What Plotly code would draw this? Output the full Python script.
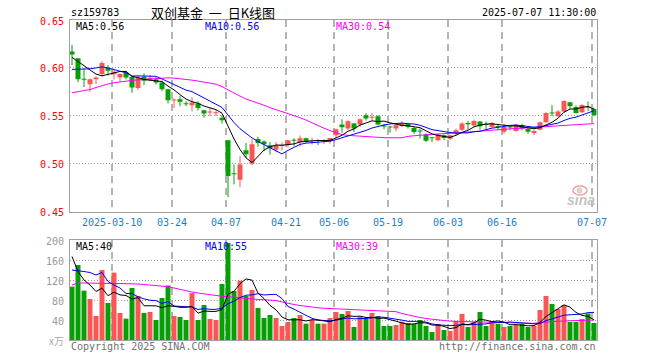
import plotly.graph_objects as go
import pandas as pd

# ---------------- data ----------------
dates = ["02-27", "02-28",
         "03-03", "03-04", "03-05", "03-06", "03-07",
         "03-10", "03-11", "03-12", "03-13", "03-14",
         "03-17", "03-18", "03-19", "03-20", "03-21",
         "03-24", "03-25", "03-26", "03-27", "03-28", "03-31",
         "04-01", "04-02", "04-03",
         "04-07", "04-08", "04-09", "04-10", "04-11",
         "04-14", "04-15", "04-16", "04-17", "04-18",
         "04-21", "04-22", "04-23", "04-24", "04-25",
         "04-28", "04-29", "04-30",
         "05-06", "05-07", "05-08", "05-09",
         "05-12", "05-13", "05-14", "05-15", "05-16",
         "05-19", "05-20", "05-21", "05-22", "05-23",
         "05-26", "05-27", "05-28", "05-29", "05-30",
         "06-03", "06-04", "06-05", "06-06",
         "06-09", "06-10", "06-11", "06-12", "06-13",
         "06-16", "06-17", "06-18", "06-19", "06-20",
         "06-23", "06-24", "06-25", "06-26", "06-27", "06-30",
         "07-01", "07-02", "07-03", "07-04", "07-07"]

opens = [0.617, 0.610, 0.5885, 0.583, 0.588, 0.5935, 0.600, 0.5934, 0.5899, 0.595,
         0.5906, 0.579, 0.5907, 0.5872, 0.5882, 0.5847, 0.5778, 0.566, 0.5673, 0.5622,
         0.561, 0.5628, 0.5557, 0.5535, 0.5525, 0.548, 0.5243, 0.490, 0.4832, 0.5139,
         0.5002, 0.5258, 0.523, 0.5191, 0.5145, 0.5185, 0.5195, 0.525, 0.5226, 0.5265,
         0.5236, 0.5242, 0.523, 0.5236, 0.5296, 0.5408, 0.5366, 0.5418, 0.5408, 0.5506,
         0.5478, 0.5495, 0.539, 0.538, 0.5366, 0.5394, 0.5415, 0.5373, 0.5339, 0.5303,
         0.5266, 0.5244, 0.5296, 0.5261, 0.531, 0.5355, 0.5425, 0.5397, 0.5439, 0.5406,
         0.5383, 0.5385, 0.5334, 0.5378, 0.5341, 0.5401, 0.5362, 0.532, 0.5355, 0.5432,
         0.5525, 0.5495, 0.5544, 0.5641, 0.5592, 0.5537, 0.5587, 0.5571]
highs = [0.624, 0.610, 0.5994, 0.589, 0.591, 0.607, 0.603, 0.5983, 0.5941, 0.597,
         0.592, 0.592, 0.5942, 0.5924, 0.5903, 0.5868, 0.578, 0.568, 0.5704, 0.5652,
         0.5694, 0.5652, 0.556, 0.5585, 0.5557, 0.5505, 0.5243, 0.4992, 0.5076, 0.5215,
         0.5253, 0.528, 0.5244, 0.5225, 0.5225, 0.522, 0.5244, 0.5265, 0.5293, 0.527,
         0.527, 0.5255, 0.5255, 0.527, 0.5366, 0.5464, 0.5453, 0.5425, 0.5471, 0.5527,
         0.5527, 0.5506, 0.5415, 0.5394, 0.5415, 0.5443, 0.5425, 0.5384, 0.5366, 0.5314,
         0.5279, 0.5314, 0.5303, 0.5303, 0.5366, 0.5432, 0.5446, 0.546, 0.5446, 0.5439,
         0.5435, 0.5418, 0.5418, 0.5401, 0.5411, 0.5418, 0.5376, 0.5355, 0.5439, 0.5537,
         0.561, 0.5558, 0.5662, 0.5641, 0.561, 0.562, 0.5648, 0.5585]
lows = [0.603, 0.585, 0.580, 0.575, 0.583, 0.591, 0.592, 0.5879, 0.5854, 0.588,
        0.574, 0.577, 0.582, 0.5861, 0.5826, 0.5757, 0.5628, 0.558, 0.560, 0.560,
        0.5547, 0.5555, 0.548, 0.5495, 0.5495, 0.5418, 0.465, 0.4783, 0.4755, 0.5062,
        0.4985, 0.5176, 0.5132, 0.5093, 0.5118, 0.5137, 0.5167, 0.5185, 0.5181, 0.522,
        0.520, 0.5195, 0.5205, 0.5209, 0.5268, 0.5324, 0.5349, 0.5331, 0.5384, 0.545,
        0.545, 0.5401, 0.5359, 0.5324, 0.5338, 0.538, 0.5366, 0.531, 0.5261, 0.5226,
        0.5226, 0.5233, 0.5244, 0.5247, 0.5296, 0.5341, 0.5355, 0.5383, 0.5355, 0.5362,
        0.5376, 0.5348, 0.5313, 0.5348, 0.5334, 0.5348, 0.5313, 0.5296, 0.5348, 0.5425,
        0.5495, 0.5488, 0.5537, 0.5571, 0.5523, 0.553, 0.5551, 0.5495]
closes = [0.614, 0.588, 0.5875, 0.588, 0.590, 0.605, 0.597, 0.5959, 0.5935, 0.590,
          0.5795, 0.590, 0.5865, 0.5896, 0.5847, 0.5778, 0.5662, 0.567, 0.5645, 0.5619,
          0.5638, 0.5582, 0.5523, 0.5545, 0.553, 0.5453, 0.487, 0.489, 0.4992, 0.5097,
          0.5202, 0.5215, 0.5202, 0.516, 0.5195, 0.519, 0.5244, 0.524, 0.5265, 0.5226,
          0.524, 0.5236, 0.524, 0.5268, 0.5359, 0.538, 0.5443, 0.5366, 0.5464, 0.5471,
          0.549, 0.5408, 0.5387, 0.5376, 0.5401, 0.5425, 0.5384, 0.5331, 0.5335, 0.524,
          0.5264, 0.5303, 0.5268, 0.5296, 0.5348, 0.5418, 0.5411, 0.5446, 0.539, 0.5404,
          0.5425, 0.5383, 0.5383, 0.5376, 0.5404, 0.5366, 0.5334, 0.5341, 0.5432, 0.553,
          0.5523, 0.5544, 0.5655, 0.5599, 0.553, 0.5613, 0.5585, 0.5509]
volumes = [106.7, 150, 98.7, 82, 48, 140, 74, 134.7, 54, 42.7,
           104, 88, 54, 56, 40, 84, 109, 48, 46, 40,
           94, 40, 70, 42, 40, 112, 194, 98, 118.7, 88,
           100, 64, 44, 50, 44, 28, 36, 44, 50, 32.7,
           40, 32.7, 32.7, 44, 56, 52, 58, 26, 46.7, 42,
           54, 48, 28, 28, 30, 36.7, 34, 32, 40, 28,
           16, 32, 20, 18, 38, 52, 26, 36, 56, 28,
           38, 32, 26, 28, 30, 32, 26, 28, 60, 88,
           72, 62, 70, 36, 36, 42, 53, 34]

# moving-average values before a full window is available
ma5_head = [0.611, 0.6065, 0.602, 0.5975]
ma10_head = [0.5984, 0.5984, 0.5984, 0.599, 0.600, 0.601, 0.600, 0.598, 0.5965]
ma30_price = [0.574, 0.575, 0.5762, 0.5774, 0.5795, 0.5815, 0.5832, 0.5845, 0.5855, 0.5863,
              0.5869, 0.5875, 0.588, 0.5885, 0.5889, 0.5893, 0.5896, 0.5893, 0.5888, 0.588,
              0.5872, 0.5862, 0.5852, 0.5842, 0.583, 0.5805, 0.577, 0.5735, 0.5705, 0.5675,
              0.5655, 0.5635, 0.561, 0.5585, 0.5565, 0.5545, 0.552, 0.5502, 0.548, 0.5455,
              0.5425, 0.5395, 0.537, 0.5345, 0.532, 0.5303, 0.5295, 0.529, 0.5285, 0.528,
              0.5277, 0.5274, 0.5271, 0.527, 0.527, 0.527, 0.5285, 0.5293, 0.5298, 0.5302,
              0.5305, 0.5308, 0.531, 0.5313, 0.532, 0.5325, 0.533, 0.5335, 0.534, 0.5345,
              0.535, 0.5358, 0.5362, 0.5365, 0.5368, 0.537, 0.5373, 0.5376, 0.5378, 0.5385,
              0.539, 0.5395, 0.5398, 0.5402, 0.5406, 0.541, 0.5415, 0.5418]
vma5_head = [167, 137, 120, 110]
vma10_head = [140, 139, 137, 135, 130, 135, 117, 110, 104]
vma30 = [110, 114, 114, 113.5, 113, 113, 113, 113, 113, 113,
         113, 112, 111, 110, 109, 108, 106.7, 104, 101, 98,
         96, 94, 92, 90, 88.5, 87.5, 86.7, 85.5, 84, 82.5,
         81.5, 81, 80.5, 80, 79, 76, 73, 71, 69, 67,
         65.5, 64.5, 63.5, 63, 62, 61.3, 60.5, 60, 59.7, 59.3,
         59, 58.7, 58, 57.5, 56.7, 53, 50, 48, 45, 43,
         41.3, 40, 38.5, 37.7, 37.3, 37, 36.5, 36, 35, 34.7,
         34.5, 34.2, 34, 33.7, 33.5, 33.3, 33.3, 33.3, 34.7, 36,
         37.3, 37.6, 38, 38.5, 39, 39.2, 39.5, 40]

tick_dates = ["03-10", "03-24", "04-07", "04-21", "05-06", "05-19", "06-03", "06-16", "07-07"]
tick_labels = ["2025-03-10", "03-24", "04-07", "04-21", "05-06", "05-19", "06-03", "06-16", "07-07"]
price_ticks = [0.65, 0.60, 0.55, 0.50, 0.45]
price_labels = ["0.65", "0.60", "0.55", "0.50", "0.45"]
vol_ticks = [200, 160, 120, 80, 40]
vol_labels = ["200", "160", "120", "80", "40"]

code = "sz159783"
title = "双创基金&nbsp;&nbsp;一&nbsp;&nbsp;日K线图"
stamp = "2025-07-07 11:30:00"
price_ma_text = ["MA5:0.56", "MA10:0.56", "MA30:0.54"]
vol_ma_text = ["MA5:40", "MA10:55", "MA30:39"]

# ---------------- styling ----------------
RED = "#fa5656"
GREEN = "#06a006"
BLUE = "#0000ff"
MAG = "#ff00ff"
BORDER = "#a0a0a0"
MONO = "DejaVu Sans Mono"

FW, FH = 660, 360
# plot area in pixels
L, R, T, B = 70, 597, 20, 340
W, H = R - L, B - T


def px(x):
    return (x - L) / W


def py(y):
    return (B - y) / H


def rolling(vals, n, head):
    s = pd.Series(vals).rolling(n).mean().tolist()
    s[:len(head)] = head
    return s


idx = list(range(len(dates)))
ma5 = rolling(closes, 5, ma5_head)
ma10 = rolling(closes, 10, ma10_head)
vma5 = rolling(volumes, 5, vma5_head)
vma10 = rolling(volumes, 10, vma10_head)

up = [c >= o for o, c in zip(opens, closes)]
colors = [RED if u else GREEN for u in up]
min_body = 0.00105
body_base = [min(o, c) for o, c in zip(opens, closes)]
body_h = [max(abs(c - o), min_body) for o, c in zip(opens, closes)]

fig = go.Figure()

# wicks
for flag, col in ((True, RED), (False, GREEN)):
    wx, wy = [], []
    for i in idx:
        if up[i] == flag:
            wx += [i, i, None]
            wy += [lows[i], highs[i], None]
    fig.add_trace(go.Scatter(x=wx, y=wy, mode="lines", line=dict(color=col, width=1),
                             hoverinfo="skip", showlegend=False, xaxis="x", yaxis="y"))

# bodies
fig.add_trace(go.Bar(x=idx, y=body_h, base=body_base, width=0.83,
                     marker=dict(color=colors, line=dict(width=0)),
                     hoverinfo="skip", showlegend=False, xaxis="x", yaxis="y"))

# price MAs
for series, col in ((ma30_price, MAG), (ma10, BLUE), (ma5, "#000000")):
    fig.add_trace(go.Scatter(x=idx, y=series, mode="lines", line=dict(color=col, width=1),
                             hoverinfo="skip", showlegend=False, xaxis="x", yaxis="y"))

# volume bars
fig.add_trace(go.Bar(x=idx, y=volumes, width=0.83,
                     marker=dict(color=colors, line=dict(width=0)),
                     hoverinfo="skip", showlegend=False, xaxis="x2", yaxis="y2"))
for series, col in ((vma30, MAG), (vma10, BLUE), (vma5, "#000000")):
    fig.add_trace(go.Scatter(x=idx, y=series, mode="lines", line=dict(color=col, width=1),
                             hoverinfo="skip", showlegend=False, xaxis="x2", yaxis="y2"))

grid_x = [dates.index(d) - 0.3 for d in tick_dates]
xr = [-0.333, len(dates) - 0.5]

common_x = dict(range=xr, showticklabels=False, ticks="", zeroline=False,
                showline=True, mirror=True, linecolor=BORDER, linewidth=1,
                showgrid=True, tickvals=grid_x, gridcolor="#b4b4b4", gridwidth=1.5,
                griddash="7px,5px", fixedrange=True)

fig.update_layout(
    width=FW, height=FH,
    margin=dict(l=L, r=FW - R, t=T, b=FH - B),
    paper_bgcolor="white", plot_bgcolor="white",
    barmode="overlay", showlegend=False,
    xaxis=dict(domain=[0, 1], anchor="y", **common_x),
    xaxis2=dict(domain=[0, 1], anchor="y2", **common_x),
    yaxis=dict(domain=[py(211.5), 1], range=[0.45, 0.65], showticklabels=False, ticks="",
               zeroline=False, showline=True, mirror=True, linecolor=BORDER,
               tickvals=[0.50, 0.55, 0.60], showgrid=True, gridcolor="#999999",
               gridwidth=1, griddash="1px,2px", fixedrange=True),
    yaxis2=dict(domain=[0, py(240)], range=[0, 200], showticklabels=False, ticks="",
                zeroline=False, showline=True, mirror=True, linecolor=BORDER,
                tickvals=[40, 80, 120, 160], showgrid=True, gridcolor="#999999",
                gridwidth=1, griddash="1px,2px", fixedrange=True),
)

ann = []


def text(x, y, s, color="#000000", size=10, anchor="left", family=MONO, yanchor="middle"):
    ann.append(dict(x=px(x), y=py(y), xref="paper", yref="paper", text=s, showarrow=False,
                    xanchor=anchor, yanchor=yanchor,
                    font=dict(family=family, size=size, color=color)))


text(69, 13, code)
text(213, 13, title, size=13, anchor="center", family="Noto Sans CJK SC")
text(598, 13, stamp, anchor="right")

for s, x, col in zip(price_ma_text, (74, 203, 334), ("#000000", BLUE, MAG)):
    text(x, 26, s, color=col)
for s, x, col in zip(vol_ma_text, (74, 203, 334), ("#000000", BLUE, MAG)):
    text(x, 246, s, color=col)

for v, s in zip(price_ticks, price_labels):
    y = T + (0.65 - v) / 0.20 * (211.5 - T)
    text(66, y + 1, s, color="#ff0000", anchor="right")

for v, s in zip(vol_ticks, vol_labels):
    y = 340 - v / 200 * 100
    text(66, y + 1, s, color="#999999", anchor="right")
text(66, 340, "x万", color="#aaaaaa", anchor="right", family="Noto Sans CJK SC", size=10)

for d, s in zip(grid_x, tick_labels):
    x = L + (d - xr[0]) / (xr[1] - xr[0]) * W
    text(x, 222, s, color="#1a7fd4", anchor="center")

text(69, 346, "Copyright 2025 SINA.COM", color="#707070")
text(598, 346, "http://finance.sina.com.cn", color="#707070", anchor="right")

# sina watermark
text(581, 200, "<b><i>sina</i></b>", color="#c4c4c4", size=14, anchor="center",
     family="Liberation Sans")
fig.add_shape(type="circle", xref="paper", yref="paper",
              x0=px(573), x1=px(587), y0=py(195), y1=py(186),
              line=dict(color="#f4a0a0", width=1.5), fillcolor="rgba(0,0,0,0)")
fig.add_shape(type="circle", xref="paper", yref="paper",
              x0=px(577), x1=px(582), y0=py(193), y1=py(188),
              line=dict(color="#c8c8c8", width=1), fillcolor="#d8d8d8")

fig.update_layout(annotations=ann)

# remove the browser's default 8px page margin so the figure sits at (0, 0)
fig.write_html("out.html",
               config={"displayModeBar": False, "staticPlot": True},
               post_script="document.body.style.margin='0';document.body.style.padding='0';")
